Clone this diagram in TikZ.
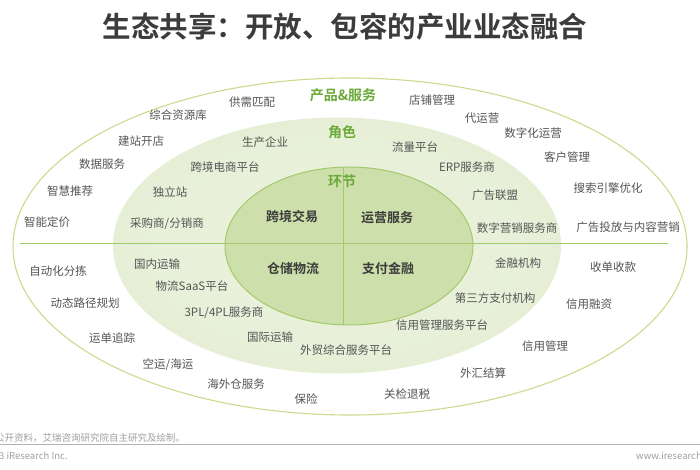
\documentclass[tikz,border=0pt]{standalone}
\usepackage{fontspec}
\setmainfont{Noto Sans CJK SC}[BoldFont={Noto Sans CJK SC Bold}]
\usetikzlibrary{shadings}
\definecolor{txtgray}{HTML}{555555}
\definecolor{titlegray}{HTML}{3C3C3C}
\definecolor{lblgreen}{HTML}{6BAA3A}
\definecolor{outerring}{HTML}{C9DC8E}
\definecolor{midfill}{HTML}{E6EFD6}
\definecolor{innerfill}{HTML}{CDE0AB}
\definecolor{innerline}{HTML}{A5C86A}
\definecolor{footgray}{HTML}{A0A0A0}
\tikzset{
  lbl/.style={font=\fontsize{11.5}{13}\selectfont, text=txtgray, inner sep=0pt},
  ring/.style={font=\fontsize{14}{16}\selectfont\bfseries, text=lblgreen, inner sep=0pt},
  core/.style={font=\fontsize{13}{15}\selectfont\bfseries, text=titlegray, inner sep=0pt},
  foot/.style={font=\fontsize{9.5}{11}\selectfont, text=footgray, inner sep=0pt},
}
\begin{document}
\begin{tikzpicture}[x=1pt,y=-1pt]
\useasboundingbox (0,0) rectangle (700,470);
\fill[white] (0,0) rectangle (700,470);
% title
\node[font=\fontsize{28.5}{31}\selectfont\bfseries, text=titlegray, inner sep=0pt] (title) at (345,27) {生态共享：开放、包容的产业业态融合};
% ellipses
\draw[outerring, line width=1.1pt, fill=white] (350,246.5) ellipse [x radius=337, y radius=168.5];
\shade[inner color=midfill!75!white, outer color=midfill] (337,245.5) ellipse [x radius=224, y radius=128];
\draw[innerline, line width=1pt, fill=innerfill] (349,246) ellipse [x radius=124, y radius=79];
\coordinate (hl) at (20,243.5);
\coordinate (hr) at (668,243.5);
\coordinate (vt) at (343,167);
\coordinate (vb) at (343,325);
\draw[innerline, line width=0.9pt] (hl) -- (hr);
\draw[innerline, line width=0.9pt] (vt) -- (vb);
% ring labels
\node[ring] (r1) at (343,95) {产品\&服务};
\node[ring] (r2) at (342,132) {角色};
\node[ring] (r3) at (342,181) {环节};
% core
\node[core] (c1) at (292,217) {跨境交易};
\node[core] (c2) at (387,218) {运营服务};
\node[core] (c3) at (293,269) {仓储物流};
\node[core] (c4) at (388,269) {支付金融};
% outer ring labels
\node[lbl] (o1) at (252,102) {供需匹配};
\node[lbl] (o2) at (432,100) {店铺管理};
\node[lbl] (o3) at (178,115) {综合资源库};
\node[lbl] (o4) at (482,118) {代运营};
\node[lbl] (o5) at (141,141) {建站开店};
\node[lbl] (o6) at (533,133) {数字化运营};
\node[lbl] (o7) at (102,164) {数据服务};
\node[lbl] (o8) at (567,157) {客户管理};
\node[lbl] (o9) at (70,191) {智慧推荐};
\node[lbl] (o10) at (608,188) {搜索引擎优化};
\node[lbl] (o11) at (47,222) {智能定价};
\node[lbl] (o12) at (628,227) {广告投放与内容营销};
\node[lbl] (o13) at (58,271) {自动化分拣};
\node[lbl] (o14) at (613,267) {收单收款};
\node[lbl] (o15) at (85,303) {动态路径规划};
\node[lbl] (o16) at (589,304) {信用融资};
\node[lbl] (o17) at (112,338) {运单追踪};
\node[lbl] (o18) at (545,346) {信用管理};
\node[lbl] (o19) at (168,365) {空运/海运};
\node[lbl] (o20) at (483,373) {外汇结算};
\node[lbl] (o21) at (236,384) {海外仓服务};
\node[lbl] (o22) at (407,394) {关检退税};
\node[lbl] (o23) at (306,399) {保险};
% middle ring labels
\node[lbl] (m1) at (265,142) {生产企业};
\node[lbl] (m2) at (415,147) {流量平台};
\node[lbl] (m3) at (225,167) {跨境电商平台};
\node[lbl] (m4) at (467,167) {ERP服务商};
\node[lbl] (m5) at (170,192) {独立站};
\node[lbl] (m6) at (495,195) {广告联盟};
\node[lbl] (m7) at (167,224) {采购商/分销商};
\node[lbl] (m8) at (517,228) {数字营销服务商};
\node[lbl] (m9) at (157,264) {国内运输};
\node[lbl] (m10) at (518,263) {金融机构};
\node[lbl] (m11) at (192,286) {物流SaaS平台};
\node[lbl] (m12) at (495,298) {第三方支付机构};
\node[lbl] (m13) at (224,313) {3PL/4PL服务商};
\node[lbl] (m14) at (442,325) {信用管理服务平台};
\node[lbl] (m15) at (270,337) {国际运输};
\node[lbl] (m16) at (346,350) {外贸综合服务平台};
% footer
\node[foot, anchor=west] (src) at (-5,438) {公开资料，艾瑞咨询研究院自主研究及绘制。};
\coordinate (fl) at (0,444);
\coordinate (fr) at (700,444);
\draw[footgray!80, line width=0.8pt] (fl) -- (fr);
\node[foot, anchor=west] (cp) at (-1,456) {3 iResearch Inc.};
\node[foot, anchor=west] (www) at (636,456) {www.iresearch.com.cn};
\end{tikzpicture}
\end{document}
